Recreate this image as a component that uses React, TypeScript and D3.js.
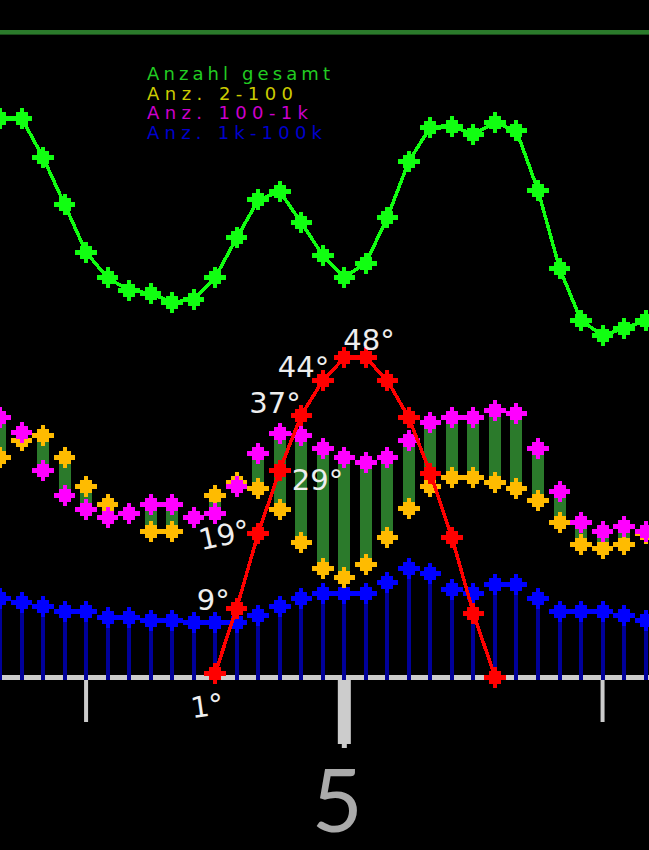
import { useEffect, useRef } from 'react';
import * as d3 from 'd3';

// 5-minute slots, ticks every full hour
const times = [
  '3:40', '3:45', '3:50', '3:55',
  '4:00', '4:05', '4:10', '4:15', '4:20', '4:25', '4:30', '4:35', '4:40', '4:45', '4:50', '4:55',
  '5:00', '5:05', '5:10', '5:15', '5:20', '5:25', '5:30', '5:35', '5:40', '5:45', '5:50', '5:55',
  '6:00', '6:05', '6:10',
];

const gesamt = [867, 867, 806, 733, 659, 619, 600, 595, 581, 586, 620, 681, 740, 753, 705, 654, 620, 642, 713, 800, 853, 854, 842, 860, 847, 755, 634, 553, 530, 541, 553];
const anz2_100 = [340, 367, 374, 341, 295, 267, 253, 226, 226, 247, 281, 301, 293, 260, 208, 169, 155, 175, 216, 262, 295, 309, 309, 301, 293, 274, 240, 206, 200, 206, 222];
const anz100_1k = [402, 380, 321, 281, 260, 247, 253, 267, 267, 247, 254, 295, 347, 378, 375, 355, 341, 333, 341, 367, 394, 402, 402, 414, 408, 355, 287, 240, 226, 234, 225];
const anz1k_100k = [122, 115, 109, 101, 101, 93, 93, 88, 88, 84, 84, 85, 95, 109, 121, 130, 130, 130, 147, 169, 161, 135, 130, 143, 143, 122, 101, 101, 101, 96, 88];

// sun elevation curve (plotted height) and its hand-written labels
const elevation: (number | null)[] = [
  null, null, null, null, null, null, null, null, null, null,
  6, 107, 223, 321, 406, 460, 495, 495, 460, 402, 316, 216, 99, 0,
  null, null, null, null, null, null, null,
];
const elevationLabels: (string | null)[] = [
  null, null, null, null, null, null, null, null, null, null,
  '1°', '9°', '19°', '29°', '37°', '44°', '48°', null, null, null, null, null, null, null,
  null, null, null, null, null, null, null,
];

const legendNames = ['Anzahl gesamt', 'Anz. 2-100', 'Anz. 100-1k', 'Anz. 1k-100k'];
const legendColors = ['#22cc22', '#cccc00', '#cc00cc', '#0000cc'];

const minorTicks = ['4:00', '6:00'];
const majorTick = '5:00';
const majorLabel = '5';

const WIDTH = 649;
const HEIGHT = 850;

// pixel-ish four-pointed marker
const marker =
  'M-2,-10.5H2V-6.5H6V-2.5H10.75V2.5H6V6.5H2V10.5H-2V6.5H-6V2.5H-10.75V-2.5H-6V-6.5H-2Z';

export default function App() {
  const svgRef = useRef<SVGSVGElement>(null);

  useEffect(() => {
    document.body.style.margin = '0';
    document.body.style.background = '#000';
    if (!svgRef.current) return;

    const svg = d3.select(svgRef.current);
    svg.selectAll('*').remove();

    const x = d3.scalePoint<string>().domain(times).range([0, 645.6]);
    const y = d3.scaleLinear().domain([0, 1000]).range([677, 32.3]);
    const px = (i: number) => x(times[i]) as number;

    svg.append('rect').attr('width', WIDTH).attr('height', HEIGHT).attr('fill', '#000');

    // top reference line
    svg.append('rect')
      .attr('x', 0).attr('width', WIDTH)
      .attr('y', y(1000) - 2.3).attr('height', 4.6)
      .attr('fill', '#2b7a2b');

    // range bars between the two small classes
    svg.append('g').selectAll('rect')
      .data(times)
      .enter().append('rect')
      .attr('x', (_, i) => px(i) - 6)
      .attr('width', 12)
      .attr('y', (_, i) => y(Math.max(anz2_100[i], anz100_1k[i])))
      .attr('height', (_, i) => Math.abs(y(anz2_100[i]) - y(anz100_1k[i])))
      .attr('fill', '#2b7a2b')
      .attr('shape-rendering', 'crispEdges');

    // baseline
    svg.append('rect')
      .attr('x', 0).attr('width', WIDTH)
      .attr('y', y(0) - 2).attr('height', 5)
      .attr('fill', '#cccccc');

    // blue stems
    svg.append('g').selectAll('rect')
      .data(anz1k_100k)
      .enter().append('rect')
      .attr('x', (_, i) => px(i) - 2)
      .attr('width', 4)
      .attr('y', d => y(d))
      .attr('height', d => y(0) + 3 - y(d))
      .attr('fill', '#00009a')
      .attr('shape-rendering', 'crispEdges');

    const drawMarkers = (values: (number | null)[], color: string) => {
      svg.append('g').selectAll('path')
        .data(values.map((v, i) => ({ v, i })).filter(d => d.v !== null))
        .enter().append('path')
        .attr('d', marker)
        .attr('transform', d => `translate(${px(d.i)},${y(d.v as number)})`)
        .attr('fill', color)
        .attr('shape-rendering', 'crispEdges');
    };

    const drawLine = (values: (number | null)[], color: string) => {
      const line = d3.line<number | null>()
        .defined(d => d !== null)
        .x((_, i) => px(i))
        .y(d => y(d as number));
      svg.append('path')
        .datum(values)
        .attr('fill', 'none')
        .attr('stroke', color)
        .attr('stroke-width', 3.5)
        .attr('shape-rendering', 'crispEdges')
        .attr('d', line);
    };

    drawMarkers(anz1k_100k, '#0000ff');
    drawMarkers(anz2_100, '#ffbb00');
    drawMarkers(anz100_1k, '#ff00ff');

    drawLine(gesamt, '#11ff11');
    drawMarkers(gesamt, '#11ff11');

    drawLine(elevation, '#ff0000');
    drawMarkers(elevation, '#ff0000');

    // angle annotations, placed by hand next to their points
    const labelOffset: Record<string, [number, number, number]> = {
      '1°': [-23, 45, -8],
      '9°': [-40, 2, 0],
      '19°': [-57, 17, -12],
      '29°': [12, 20, 0],
      '37°': [-52, -2, 0],
      '44°': [-45, -3, 0],
      '48°': [-1, -8, 0],
    };
    svg.append('g').selectAll('text')
      .data(elevationLabels.map((t, i) => ({ t, i })).filter(d => d.t !== null))
      .enter().append('text')
      .attr('transform', d => {
        const [dx, dy, rot] = labelOffset[d.t as string];
        const lx = px(d.i) + dx;
        const ly = y(elevation[d.i] as number) + dy;
        return `translate(${lx},${ly}) rotate(${rot})`;
      })
      .attr('fill', '#eeeeee')
      .attr('font-family', 'DejaVu Sans, sans-serif')
      .attr('font-size', 29)
      .text(d => d.t as string);

    // legend
    const legendWidths = [183, 146, 161, 175];
    svg.append('g').selectAll('text')
      .data(legendNames)
      .enter().append('text')
      .attr('x', 147)
      .attr('y', (_, i) => 80 + i * 19.5)
      .attr('fill', (_, i) => legendColors[i])
      .attr('font-family', 'DejaVu Sans, sans-serif')
      .attr('font-size', 18)
      .attr('textLength', (_, i) => legendWidths[i])
      .attr('lengthAdjust', 'spacing')
      .text(d => d);

    // hour ticks
    svg.append('g').selectAll('rect')
      .data(minorTicks)
      .enter().append('rect')
      .attr('x', d => (x(d) as number) - 2)
      .attr('width', 4)
      .attr('y', y(0) + 3)
      .attr('height', 42)
      .attr('fill', '#cccccc');

    const mx = x(majorTick) as number;
    svg.append('rect')
      .attr('x', mx - 6.5).attr('width', 13)
      .attr('y', y(0) + 3).attr('height', 64)
      .attr('fill', '#cccccc');
    svg.append('rect')
      .attr('x', mx - 2.5).attr('width', 5)
      .attr('y', y(0) + 67).attr('height', 4)
      .attr('fill', '#cccccc');

    svg.append('text')
      .attr('x', mx - 7)
      .attr('y', 832)
      .attr('text-anchor', 'middle')
      .attr('fill', '#aaaaaa')
      .attr('font-family', 'Lato, sans-serif')
      .attr('font-weight', 400)
      .attr('font-size', 88)
      .text(majorLabel);
  }, []);

  return (
    <svg
      ref={svgRef}
      width={WIDTH}
      height={HEIGHT}
      style={{ display: 'block', position: 'absolute', left: 0, top: 0 }}
    />
  );
}
